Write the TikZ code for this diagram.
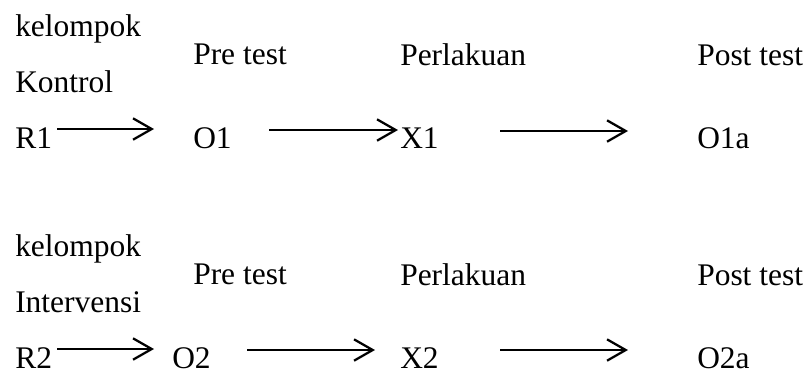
\documentclass[tikz,border=0pt]{standalone}
\usepackage{fontspec}
\setmainfont{Liberation Serif}
\usetikzlibrary{arrows.meta}
\tikzset{
  lbl/.style={inner sep=0pt, anchor=base west, font=\fontsize{23.6}{28}\selectfont},
  arr/.style={line width=1.7pt, -{Straight Barb[length=14pt,width=16pt,line width=1.7pt]}}
}
\begin{document}
\begin{tikzpicture}[x=0.75pt,y=-0.75pt]
\useasboundingbox (0,0) rectangle (809,372);
% group 1
\node[lbl] (k1) at (15,36) {kelompok};
\node[lbl] (kontrol) at (15,92) {Kontrol};
\node[lbl] (pre1) at (193,64) {Pre test};
\node[lbl] (perl1) at (400,65) {Perlakuan};
\node[lbl] (post1) at (697,65) {Post test};
\node[lbl] (R1) at (15,148) {R1};
\node[lbl] (O1) at (193,148) {O1};
\node[lbl] (X1) at (400,148) {X1};
\node[lbl] (O1a) at (697,148) {O1a};
\coordinate (a1s) at (57,129);
\coordinate (a1e) at (154,129);
\coordinate (a2s) at (269,130);
\coordinate (a2e) at (398,130);
\coordinate (a3s) at (500,131);
\coordinate (a3e) at (628,131);
\draw[arr] (a1s) -- (a1e);
\draw[arr] (a2s) -- (a2e);
\draw[arr] (a3s) -- (a3e);
% group 2
\node[lbl] (k2) at (15,256) {kelompok};
\node[lbl] (interv) at (15,312) {Intervensi};
\node[lbl] (pre2) at (193,284) {Pre test};
\node[lbl] (perl2) at (400,285) {Perlakuan};
\node[lbl] (post2) at (697,285) {Post test};
\node[lbl] (R2) at (15,368) {R2};
\node[lbl] (O2) at (172,368) {O2};
\node[lbl] (X2) at (400,368) {X2};
\node[lbl] (O2a) at (697,368) {O2a};
\coordinate (b1s) at (57,349);
\coordinate (b1e) at (154,349);
\coordinate (b2s) at (247,350);
\coordinate (b2e) at (375,350);
\coordinate (b3s) at (500,350);
\coordinate (b3e) at (628,350);
\draw[arr] (b1s) -- (b1e);
\draw[arr] (b2s) -- (b2e);
\draw[arr] (b3s) -- (b3e);
\end{tikzpicture}
\end{document}
